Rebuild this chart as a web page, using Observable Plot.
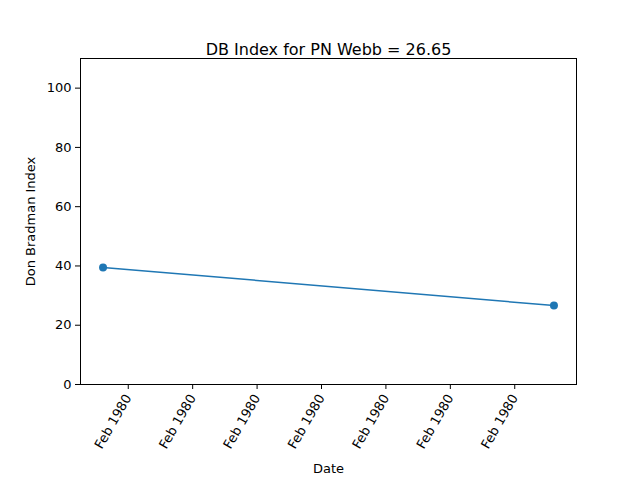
<!DOCTYPE html>
<html>
<head>
<meta charset="utf-8">
<script src="https://cdn.jsdelivr.net/npm/d3@7"></script>
<script src="https://cdn.jsdelivr.net/npm/@observablehq/plot@0.6"></script>
<style>
  body { margin: 0; background: #fff; }
  svg { font-family: "DejaVu Sans", sans-serif; }
</style>
</head>
<body>
<div id="chart"></div>
<script>
  // Innings dates and index values
  const dates = ["1980-02-01T12:00", "1980-02-08T12:00"];
  const index = [39.5, 26.65];
  const yTicks = [0, 20, 40, 60, 80, 100];
  const xTicks = ["1980-02-02", "1980-02-03", "1980-02-04", "1980-02-05", "1980-02-06", "1980-02-07", "1980-02-08"];

  const data = dates.map((d, i) => ({ date: new Date(d), value: index[i] }));
  const pad = 0.35 * 24 * 3600 * 1000;
  const t0 = data[0].date.getTime(), t1 = data[1].date.getTime();

  const chart = Plot.plot({
    width: 640,
    height: 480,
    marginLeft: 80,
    marginRight: 64,
    marginTop: 58,
    marginBottom: 96,
    style: { background: "white", color: "black", fontSize: "13px", fontFamily: "DejaVu Sans, sans-serif" },
    x: {
      type: "utc",
      domain: [new Date(t0 - pad), new Date(t1 + pad)],
      label: null
    },
    y: {
      domain: [0, 110],
      ticks: yTicks,
      tickSize: 5,
      label: null
    },
    marks: [
      Plot.frame({ stroke: "black" }),
      Plot.axisX(xTicks.map(d => new Date(d)), {
        tickFormat: () => "Feb 1980",
        tickRotate: -60,
        tickSize: 5,
        textAnchor: "end",
        dx: -7,
        label: null
      }),
      Plot.line(data, { x: "date", y: "value", stroke: "#1f77b4", strokeWidth: 1.5 }),
      Plot.dot(data, { x: "date", y: "value", fill: "#1f77b4", r: 4 }),
      Plot.text(["DB Index for PN Webb = 26.65"], { frameAnchor: "top", dy: -15, fontSize: 16, fill: "black" }),
      Plot.text(["Date"], { frameAnchor: "bottom", dy: 88, fontSize: 13, fill: "black" }),
      Plot.text(["Don Bradman Index"], { frameAnchor: "left", textAnchor: "middle", dx: -50, rotate: -90, fontSize: 13, fill: "black" })
    ]
  });
  document.getElementById("chart").appendChild(chart);
</script>
</body>
</html>
